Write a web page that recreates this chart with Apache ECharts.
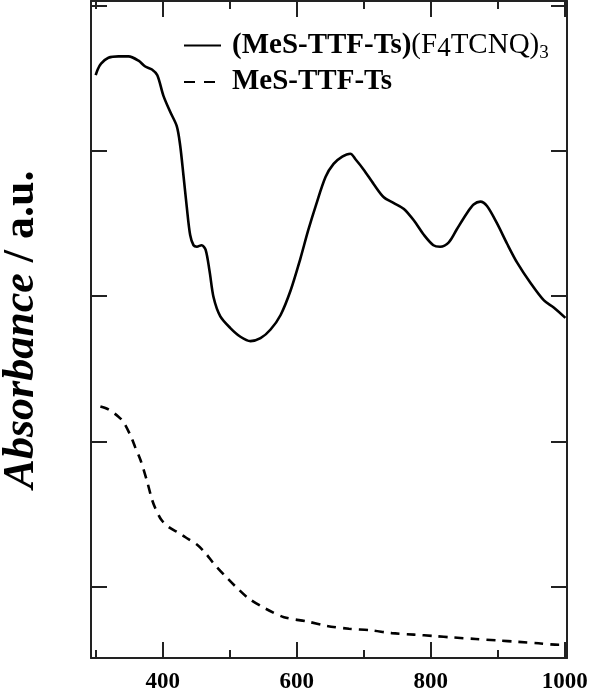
<!DOCTYPE html>
<html>
<head>
<meta charset="utf-8">
<script src="https://cdn.jsdelivr.net/npm/echarts@6/dist/echarts.min.js"></script>
<style>
  html, body { margin: 0; padding: 0; background: #fff; }
  #chart { width: 590px; height: 691px; }
</style>
</head>
<body>
<div id="chart"></div>
<script>
// wavelength (nm) / absorbance (a.u.)
var complexWl = [300, 303, 308, 319, 334, 349, 364, 374, 384, 392, 401, 411, 421, 426, 431, 436, 441, 446, 451, 458, 464,
  470, 476, 486, 501, 516, 531, 546, 561, 576, 591, 605, 617, 629, 643, 655, 668, 680, 688, 700, 715,
  730, 745, 760, 775, 790, 804, 814, 827, 839, 854, 864, 874, 884, 899, 914, 929, 949, 969, 984, 1001]
var complexAbs = [4.52, 4.56, 4.60, 4.64, 4.65, 4.65, 4.62, 4.58, 4.56, 4.52, 4.38, 4.27, 4.17, 4.04, 3.83, 3.61, 3.42, 3.35, 3.34, 3.35, 3.32,
  3.17, 2.99, 2.86, 2.78, 2.72, 2.69, 2.71, 2.77, 2.87, 3.04, 3.25, 3.45, 3.63, 3.82, 3.91, 3.96, 3.98, 3.94, 3.87, 3.77,
  3.68, 3.64, 3.60, 3.52, 3.42, 3.35, 3.34, 3.37, 3.46, 3.57, 3.63, 3.65, 3.62, 3.50, 3.36, 3.23, 3.09, 2.97, 2.92, 2.85]

var donorWl = [307, 319, 334, 342, 352, 359, 367, 377, 384, 389, 398, 409, 424, 434, 451, 464, 476, 494, 509, 528,
  553, 581, 616, 645, 678, 710, 742, 775, 805, 834, 867, 899, 931, 961, 991, 998]
var donorAbs = [2.24, 2.22, 2.17, 2.13, 2.04, 1.96, 1.87, 1.72, 1.60, 1.54, 1.46, 1.41, 1.37, 1.34, 1.29, 1.23, 1.16, 1.07, 1.00, 0.92,
  0.85, 0.79, 0.76, 0.73, 0.71, 0.70, 0.68, 0.67, 0.66, 0.65, 0.64, 0.63, 0.62, 0.61, 0.60, 0.60]

var xMajorTicks = [400, 600, 800, 1000]
var xMinorTicks = [300, 500, 700, 900]
var yTicks = [1, 2, 3, 4, 5]

var complexName = '(MeS-TTF-Ts)(F4TCNQ)3'
var donorName = 'MeS-TTF-Ts'

var serif = 'Liberation Serif'
var XMIN = 293
var XMAX = 1003.4

function pairs (xs, ys) {
  return xs.map(function (x, i) { return [x, ys[i]] })
}

function xAxisOf (pos, ticks, len, showLine, showLabel) {
  return {
    type: 'value',
    position: pos,
    min: XMIN,
    max: XMAX,
    axisLine: { show: showLine, onZero: false, lineStyle: { color: '#222', width: 2 } },
    axisTick: { show: true, inside: true, length: len, customValues: ticks, lineStyle: { color: '#222', width: 2 } },
    axisLabel: {
      show: showLabel,
      customValues: ticks,
      margin: 13,
      color: '#000',
      fontFamily: serif,
      fontWeight: 'bold',
      fontSize: 23,
      formatter: function (v) { return String(v) }
    },
    splitLine: { show: false }
  }
}

function yAxisOf (pos, withName) {
  var ax = {
    type: 'value',
    position: pos,
    min: 0.509,
    max: 5.031,
    axisLine: { show: true, onZero: false, lineStyle: { color: '#222', width: 2 } },
    axisTick: { show: true, inside: true, length: 16, customValues: yTicks, lineStyle: { color: '#222', width: 2 } },
    axisLabel: { show: false },
    splitLine: { show: false }
  }
  if (withName) {
    ax.name = '{i|Absorbance}{n| / a.u.}'
    ax.nameLocation = 'middle'
    ax.nameGap = 47
    ax.nameTextStyle = {
      rich: {
        i: { fontFamily: serif, fontSize: 44, fontWeight: 'bold', fontStyle: 'italic', color: '#000' },
        n: { fontFamily: serif, fontSize: 44, fontWeight: 'bold', color: '#000' }
      }
    }
  }
  return ax
}

var chart = echarts.init(document.getElementById('chart'))
chart.setOption({
  animation: false,
  backgroundColor: '#fff',
  grid: { left: 91, right: 23, top: 1, bottom: 33, outerBoundsMode: 'none', containLabel: false },
  legend: {
    orient: 'vertical',
    left: 183,
    top: 31,
    padding: 0,
    itemWidth: 37,
    itemHeight: 14,
    itemGap: 5,
    itemStyle: { color: 'rgba(0,0,0,0)', borderWidth: 0, opacity: 0 },
    data: [
      { name: complexName },
      { name: donorName, lineStyle: { type: [11, 9] } }
    ],
    formatter: function (name) {
      if (name === complexName) {
        return '{b|(MeS-TTF-Ts)}{r|(F}{s|4}{r|TCNQ)}{t|3}'
      }
      return '{b|' + name + '}'
    },
    textStyle: {
      padding: [0, 0, 0, 6],
      rich: {
        b: { fontFamily: serif, fontSize: 29, fontWeight: 'bold', color: '#000', lineHeight: 34 },
        r: { fontFamily: serif, fontSize: 29, color: '#000', lineHeight: 34 },
        s: { fontFamily: serif, fontSize: 27, color: '#000', lineHeight: 24, verticalAlign: 'bottom' },
        t: { fontFamily: serif, fontSize: 19, color: '#000', lineHeight: 16, verticalAlign: 'bottom' }
      }
    }
  },
  xAxis: [
    xAxisOf('bottom', xMajorTicks, 16, true, true),
    xAxisOf('bottom', xMinorTicks, 8, false, false),
    xAxisOf('top', xMajorTicks, 16, true, false),
    xAxisOf('top', xMinorTicks, 8, false, false)
  ],
  yAxis: [
    yAxisOf('left', true),
    yAxisOf('right', false)
  ],
  series: [
    {
      name: complexName,
      type: 'line',
      smooth: 0.3,
      symbol: 'none',
      lineStyle: { color: '#000', width: 2.6 },
      itemStyle: { color: '#000' },
      data: pairs(complexWl, complexAbs)
    },
    {
      name: donorName,
      type: 'line',
      smooth: 0.3,
      symbol: 'none',
      lineStyle: { color: '#000', width: 2.6, type: [9, 7] },
      itemStyle: { color: '#000' },
      data: pairs(donorWl, donorAbs)
    }
  ]
})
</script>
</body>
</html>
